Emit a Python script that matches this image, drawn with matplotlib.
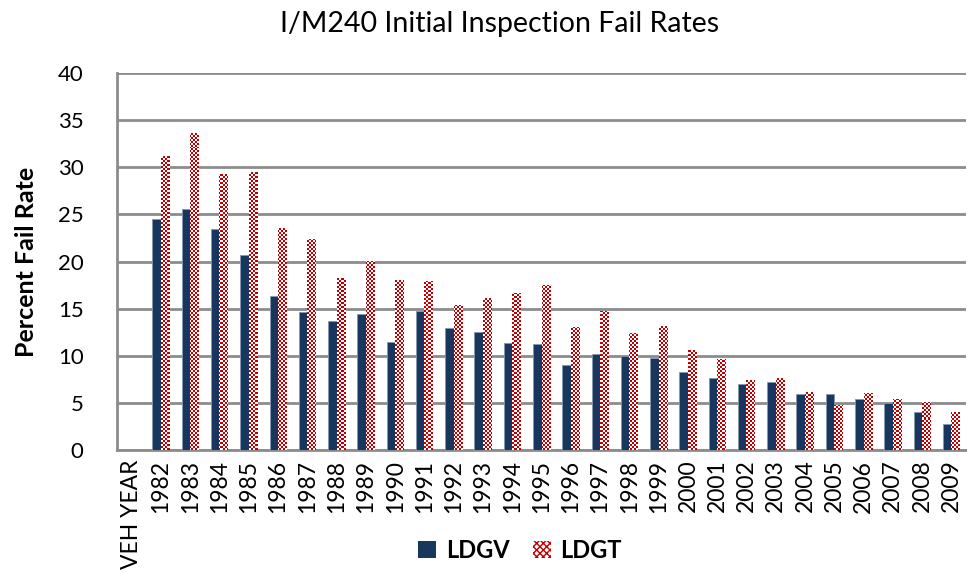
import numpy as np
import matplotlib
matplotlib.use("Agg")
import matplotlib.pyplot as plt
from matplotlib.colors import ListedColormap
from matplotlib.patches import Patch

categories = ["VEH YEAR"] + [str(y) for y in range(1982, 2010)]
ldgv = [np.nan, 24.5, 25.6, 23.4, 20.7, 16.3, 14.6, 13.7, 14.4, 11.5, 14.7,
        12.9, 12.55, 11.3, 11.2, 9.0, 10.2, 9.96, 9.74, 8.3, 7.6,
        7.0, 7.2, 5.9, 5.9, 5.45, 5.0, 4.0, 2.8]
ldgt = [np.nan, 31.2, 33.6, 29.3, 29.5, 23.6, 22.4, 18.2, 20.1, 18.0, 17.9,
        15.4, 16.1, 16.7, 17.55, 13.0, 14.8, 12.4, 13.2, 10.6, 9.7,
        7.4, 7.6, 6.2, 4.75, 6.1, 5.45, 5.1, 4.0]
yticks = list(range(0, 41, 5))

plt.rcParams['font.family'] = ['Lato', 'DejaVu Sans']

W, H = 967, 573
fig = plt.figure(figsize=(W / 100, H / 100), dpi=100)
ax = fig.add_axes([117 / W, 1 - 450 / H, (966 - 117) / W, (450 - 73) / H])

n = len(categories)
x = np.arange(n)
bw = 0.29
navy = "#17375E"
red = "#C00000"

ax.bar(x - bw / 2, ldgv, width=bw, color=navy, edgecolor="#8497B0",
       linewidth=0.6, zorder=3, label="LDGV")
bars_t = ax.bar(x + bw / 2, ldgt, width=bw, color="white", edgecolor="none",
                linewidth=0, zorder=3, label="LDGT")

# checkerboard fill for LDGT bars
ph = 450 - 73
pw = 966 - 117
cs = 2
cb = ((np.indices((ph // cs + 1, pw // cs + 1)).sum(axis=0)) % 2).astype(float)
cmap = ListedColormap(["white", red])
for b in bars_t:
    if np.isnan(b.get_height()):
        continue
    im = ax.imshow(cb, extent=(-0.5, n - 0.5, 0, 40), origin="lower",
                   cmap=cmap, interpolation="nearest", aspect="auto",
                   zorder=3.5)
    im.set_clip_path(b)
ax.set_xlim(-0.5, n - 0.5)
ax.set_ylim(0, 40)

ax.set_yticks(yticks)
ax.set_yticklabels([str(v) for v in yticks], fontsize=16)
ax.set_xticks(x)
ax.set_xticklabels(categories, rotation=90, fontsize=16.5)
ax.tick_params(axis="x", length=0, pad=7)
ax.tick_params(axis="y", length=0, pad=24)

ax.grid(axis="y", color="#8C8C8C", linewidth=2, zorder=0)
ax.set_axisbelow(True)
for s in ["top", "right"]:
    ax.spines[s].set_visible(False)
for s in ["left", "bottom"]:
    ax.spines[s].set_color("#8C8C8C")
    ax.spines[s].set_linewidth(2)

ax.set_ylabel("Percent Fail Rate", fontsize=18, fontweight="bold", labelpad=14)
fig.text(500 / W, 1 - 24 / H, "I/M240 Initial Inspection Fail Rates",
         ha="center", va="center", fontsize=20.5)

h1 = Patch(facecolor=navy, edgecolor="none")
h2 = Patch(facecolor="white", edgecolor=red, hatch="xxxxx", linewidth=0)
leg = fig.legend([h1, h2], ["LDGV", "LDGT"], loc="center",
                 bbox_to_anchor=(520 / W, 1 - 550 / H), ncol=2, frameon=False,
                 prop={"weight": "bold", "size": 17}, handlelength=0.75,
                 handleheight=0.75, columnspacing=1.0, handletextpad=0.4)

fig.savefig("out.png", dpi=100)
